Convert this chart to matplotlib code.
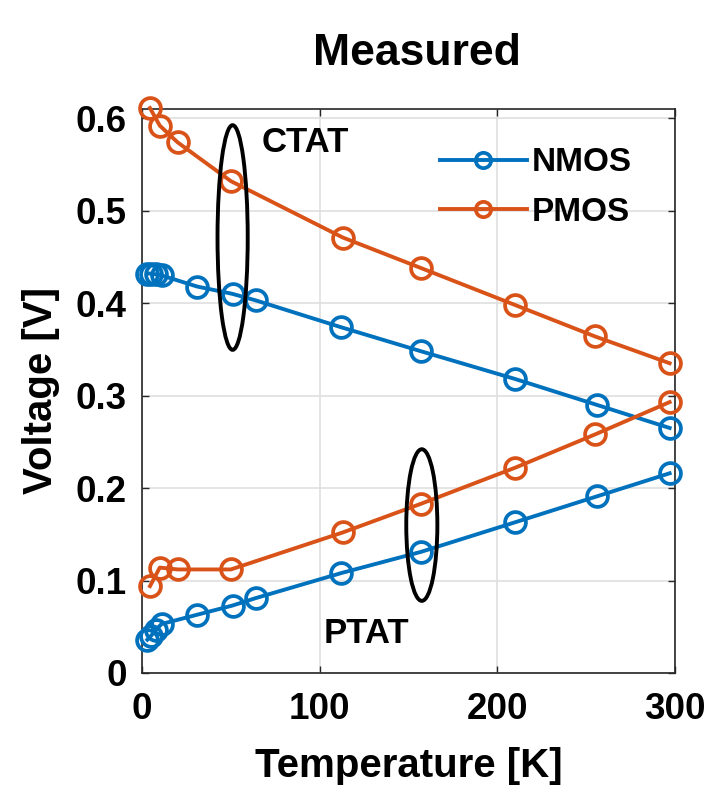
import matplotlib
matplotlib.use("Agg")
import matplotlib.pyplot as plt
from matplotlib.patches import Ellipse

plt.rcParams['font.family'] = ['Liberation Sans', 'DejaVu Sans']
plt.rcParams['font.weight'] = 'bold'

# Temperatures [K]
t_nmos = [3, 5, 8, 11, 31, 51, 64, 112, 157, 210, 256, 297]
t_pmos = [4.5, 10, 20, 50, 113, 157, 210, 255, 297]

# Voltages [V]
nmos_ctat = [0.432, 0.432, 0.431, 0.430, 0.418, 0.410, 0.403, 0.374, 0.348, 0.318, 0.290, 0.265]
nmos_ptat = [0.036, 0.040, 0.047, 0.053, 0.063, 0.073, 0.081, 0.108, 0.131, 0.163, 0.191, 0.216]
pmos_ctat = [0.611, 0.592, 0.574, 0.532, 0.471, 0.438, 0.398, 0.364, 0.335]
pmos_ptat = [0.094, 0.114, 0.112, 0.112, 0.152, 0.183, 0.222, 0.258, 0.293]

x_ticks = [0, 100, 200, 300]
y_ticks = [0, 0.1, 0.2, 0.3, 0.4, 0.5, 0.6]
y_tick_labels = ['0', '0.1', '0.2', '0.3', '0.4', '0.5', '0.6']

blue = '#0072BD'
orange = '#D95319'

fig = plt.figure(figsize=(7.09, 7.99), dpi=100)
ax = fig.add_axes([0.2003, 0.1577, 0.7517, 0.7059])

style = dict(marker='o', markersize=15, markerfacecolor='none',
             markeredgewidth=2.7, linewidth=2.8, clip_on=False, zorder=3)

ax.plot(t_nmos, nmos_ctat, color=blue, label='NMOS', **style)
ax.plot(t_pmos, pmos_ctat, color=orange, label='PMOS', **style)
ax.plot(t_nmos, nmos_ptat, color=blue, **style)
ax.plot(t_pmos, pmos_ptat, color=orange, **style)

# Grouping ellipses
ax.add_patch(Ellipse((51, 0.471), 17, 0.243, fill=False, edgecolor='black',
                     linewidth=2.8, zorder=4))
ax.add_patch(Ellipse((157.5, 0.160), 17.5, 0.164, fill=False, edgecolor='black',
                     linewidth=2.8, zorder=4))

ax.text(92, 0.574, 'CTAT', fontsize=25, fontweight='bold', ha='center', va='center')
ax.text(126.5, 0.043, 'PTAT', fontsize=25, fontweight='bold', ha='center', va='center')

ax.set_xlim(0, 300)
ax.set_ylim(0, 0.61)
ax.set_xticks(x_ticks)
ax.set_yticks(y_ticks)
ax.set_yticklabels(y_tick_labels)
ax.tick_params(direction='in', length=5, width=1, labelsize=26.5, colors='#262626',
               labelcolor='black', top=True, right=True)
ax.tick_params(axis='x', pad=14)
ax.tick_params(axis='y', pad=11)
for lbl in ax.get_xticklabels() + ax.get_yticklabels():
    lbl.set_fontweight('bold')

ax.grid(True, color='#DFDFDF', linewidth=1.2)
ax.set_axisbelow(True)
for sp in ax.spines.values():
    sp.set_color('#262626')
    sp.set_linewidth(1.2)

ax.set_xlabel('Temperature [K]', fontsize=29, fontweight='bold', labelpad=14)
ax.set_ylabel('Voltage [V]', fontsize=29, fontweight='bold', labelpad=11)
ax.set_title('Measured', fontsize=32, fontweight='bold', pad=32, x=0.515)

leg = ax.legend(loc='upper left', bbox_to_anchor=(0.559, 0.932), frameon=False,
                fontsize=24, handlelength=2.6, handletextpad=0.15,
                labelspacing=0.55, borderaxespad=0.0, borderpad=0.0)
for h in leg.get_lines():
    h.set_markersize(11)

fig.savefig('out.png', dpi=100, facecolor='white')
